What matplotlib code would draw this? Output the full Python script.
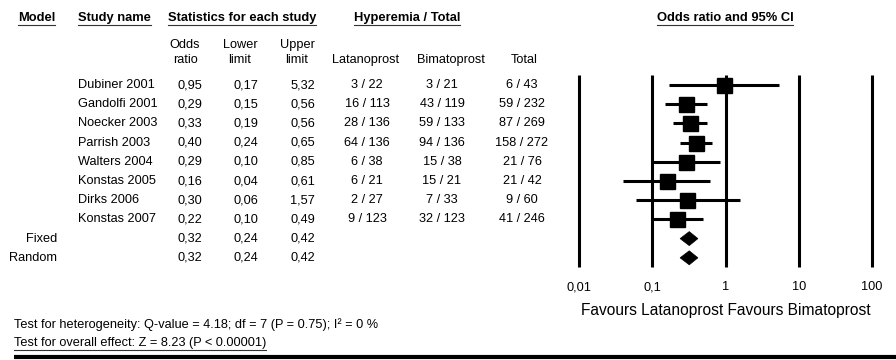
import matplotlib
matplotlib.use("Agg")
import matplotlib.pyplot as plt
from matplotlib.patches import Polygon

plt.rcParams['font.family'] = ['Liberation Sans', 'DejaVu Sans']

# ---- study data ----
studies = ["Dubiner 2001", "Gandolfi 2001", "Noecker 2003", "Parrish 2003",
           "Walters 2004", "Konstas 2005", "Dirks 2006", "Konstas 2007"]
odds_ratio = [0.95, 0.29, 0.33, 0.40, 0.29, 0.16, 0.30, 0.22]
lower_limit = [0.17, 0.15, 0.19, 0.24, 0.10, 0.04, 0.06, 0.10]
upper_limit = [5.32, 0.56, 0.56, 0.65, 0.85, 0.61, 1.57, 0.49]
lat_events = [3, 16, 28, 64, 6, 6, 2, 9]
lat_total = [22, 113, 136, 136, 38, 21, 27, 123]
bim_events = [3, 43, 59, 94, 15, 15, 7, 32]
bim_total = [21, 119, 133, 136, 38, 21, 33, 123]

# ---- pooled estimates ----
models = ["Fixed", "Random"]
pooled_or = [0.32, 0.32]
pooled_lower = [0.24, 0.24]
pooled_upper = [0.42, 0.42]

axis_ticks = [0.01, 0.1, 1, 10, 100]
axis_labels = ["0,01", "0,1", "1", "10", "100"]

heterogeneity = "Test for heterogeneity: Q-value = 4.18; df = 7 (P = 0.75); I\u00b2 = 0 %"
overall = "Test for overall effect: Z = 8.23 (P < 0.00001)"
favours = "Favours Latanoprost Favours Bimatoprost"

W, H = 896, 360
fig = plt.figure(figsize=(W / 100, H / 100), dpi=100)
fig.patch.set_facecolor("white")

# text layer in pixel coordinates
tx = fig.add_axes([0, 0, 1, 1])
tx.set_xlim(0, W)
tx.set_ylim(H, 0)
tx.axis("off")

# forest panel: log x axis, y in pixel rows
x0, x1 = 579, 872
fx = fig.add_axes([x0 / W, 0, (x1 - x0) / W, 1])
fx.set_xscale("log")
fx.set_xlim(0.01, 100)
fx.set_ylim(H, 0)
fx.axis("off")

FS = 9.2
FSB = 9.3
row0, dy = 85, 19.2


def fmt(v):
    return f"{v:.2f}".replace(".", ",")


underline_items = []


def header(x, y, s, ha="left"):
    t = tx.text(x, y, s, ha=ha, va="center", fontsize=FSB, fontweight="bold")
    underline_items.append(t)


header(18, 18, "Model")
header(78, 18, "Study name")
header(242, 18, "Statistics for each study", ha="center")
header(407, 18, "Hyperemia / Total", ha="center")
header(725, 18, "Odds ratio and 95% CI", ha="center")

for x, s in [(185, "Odds\nratio"), (240, "Lower\nlimit"), (297, "Upper\nlimit")]:
    tx.text(x, 52.5, s, ha="center", va="center", fontsize=FS, linespacing=1.3,
            multialignment="center")
for x, s in [(366, "Latanoprost"), (451, "Bimatoprost"), (524, "Total")]:
    tx.text(x, 60, s, ha="center", va="center", fontsize=FS)

# study rows
for i, name in enumerate(studies):
    y = row0 + dy * i
    tx.text(78, y, name, ha="left", va="center", fontsize=FS)
    tx.text(202, y, fmt(odds_ratio[i]), ha="right", va="center", fontsize=FS)
    tx.text(258, y, fmt(lower_limit[i]), ha="right", va="center", fontsize=FS)
    tx.text(315, y, fmt(upper_limit[i]), ha="right", va="center", fontsize=FS)
    tx.text(367, y, f"{lat_events[i]} / {lat_total[i]}", ha="center", va="center", fontsize=FS)
    tx.text(442, y, f"{bim_events[i]} / {bim_total[i]}", ha="center", va="center", fontsize=FS)
    tot_e = lat_events[i] + bim_events[i]
    tot_n = lat_total[i] + bim_total[i]
    tx.text(522, y, f"{tot_e} / {tot_n}", ha="center", va="center", fontsize=FS)

    fx.plot([lower_limit[i], upper_limit[i]], [y, y], color="black", lw=2.2,
            solid_capstyle="butt", zorder=3)
    fx.plot([odds_ratio[i]], [y], marker="s", color="black", markersize=10.8,
            linestyle="none", zorder=4)

# pooled rows
for j, m in enumerate(models):
    y = row0 + dy * (len(studies) + j)
    tx.text(57, y, m, ha="right", va="center", fontsize=FS)
    tx.text(202, y, fmt(pooled_or[j]), ha="right", va="center", fontsize=FS)
    tx.text(258, y, fmt(pooled_lower[j]), ha="right", va="center", fontsize=FS)
    tx.text(315, y, fmt(pooled_upper[j]), ha="right", va="center", fontsize=FS)
    fx.add_patch(Polygon([(pooled_lower[j], y), (pooled_or[j], y - 7),
                          (pooled_upper[j], y), (pooled_or[j], y + 7)],
                         closed=True, facecolor="black", edgecolor="black",
                         lw=0.5, zorder=4))

# reference lines and axis labels
fx.vlines(axis_ticks, 75, 267, color="black", lw=2.2, clip_on=False, zorder=2)
for v, lab in zip(axis_ticks, axis_labels):
    fx.text(v, 287, lab, ha="center", va="center", fontsize=FS, clip_on=False)

tx.text(726, 311, favours, ha="center", va="center", fontsize=11.2)

tx.text(14, 325, heterogeneity, ha="left", va="center", fontsize=FS)
t_over = tx.text(14, 343, overall, ha="left", va="center", fontsize=FS)
underline_items.append(t_over)

tx.plot([14, W], [356.5, 356.5], color="black", lw=3, solid_capstyle="butt")

# underline the headings
fig.canvas.draw()
r = fig.canvas.get_renderer()
for t in underline_items:
    bb = t.get_window_extent(renderer=r)
    yb = H - bb.y0 + 1
    tx.plot([bb.x0, bb.x1], [yb, yb], color="#333333", lw=0.8)

fig.savefig("out.png", dpi=100, facecolor="white")
